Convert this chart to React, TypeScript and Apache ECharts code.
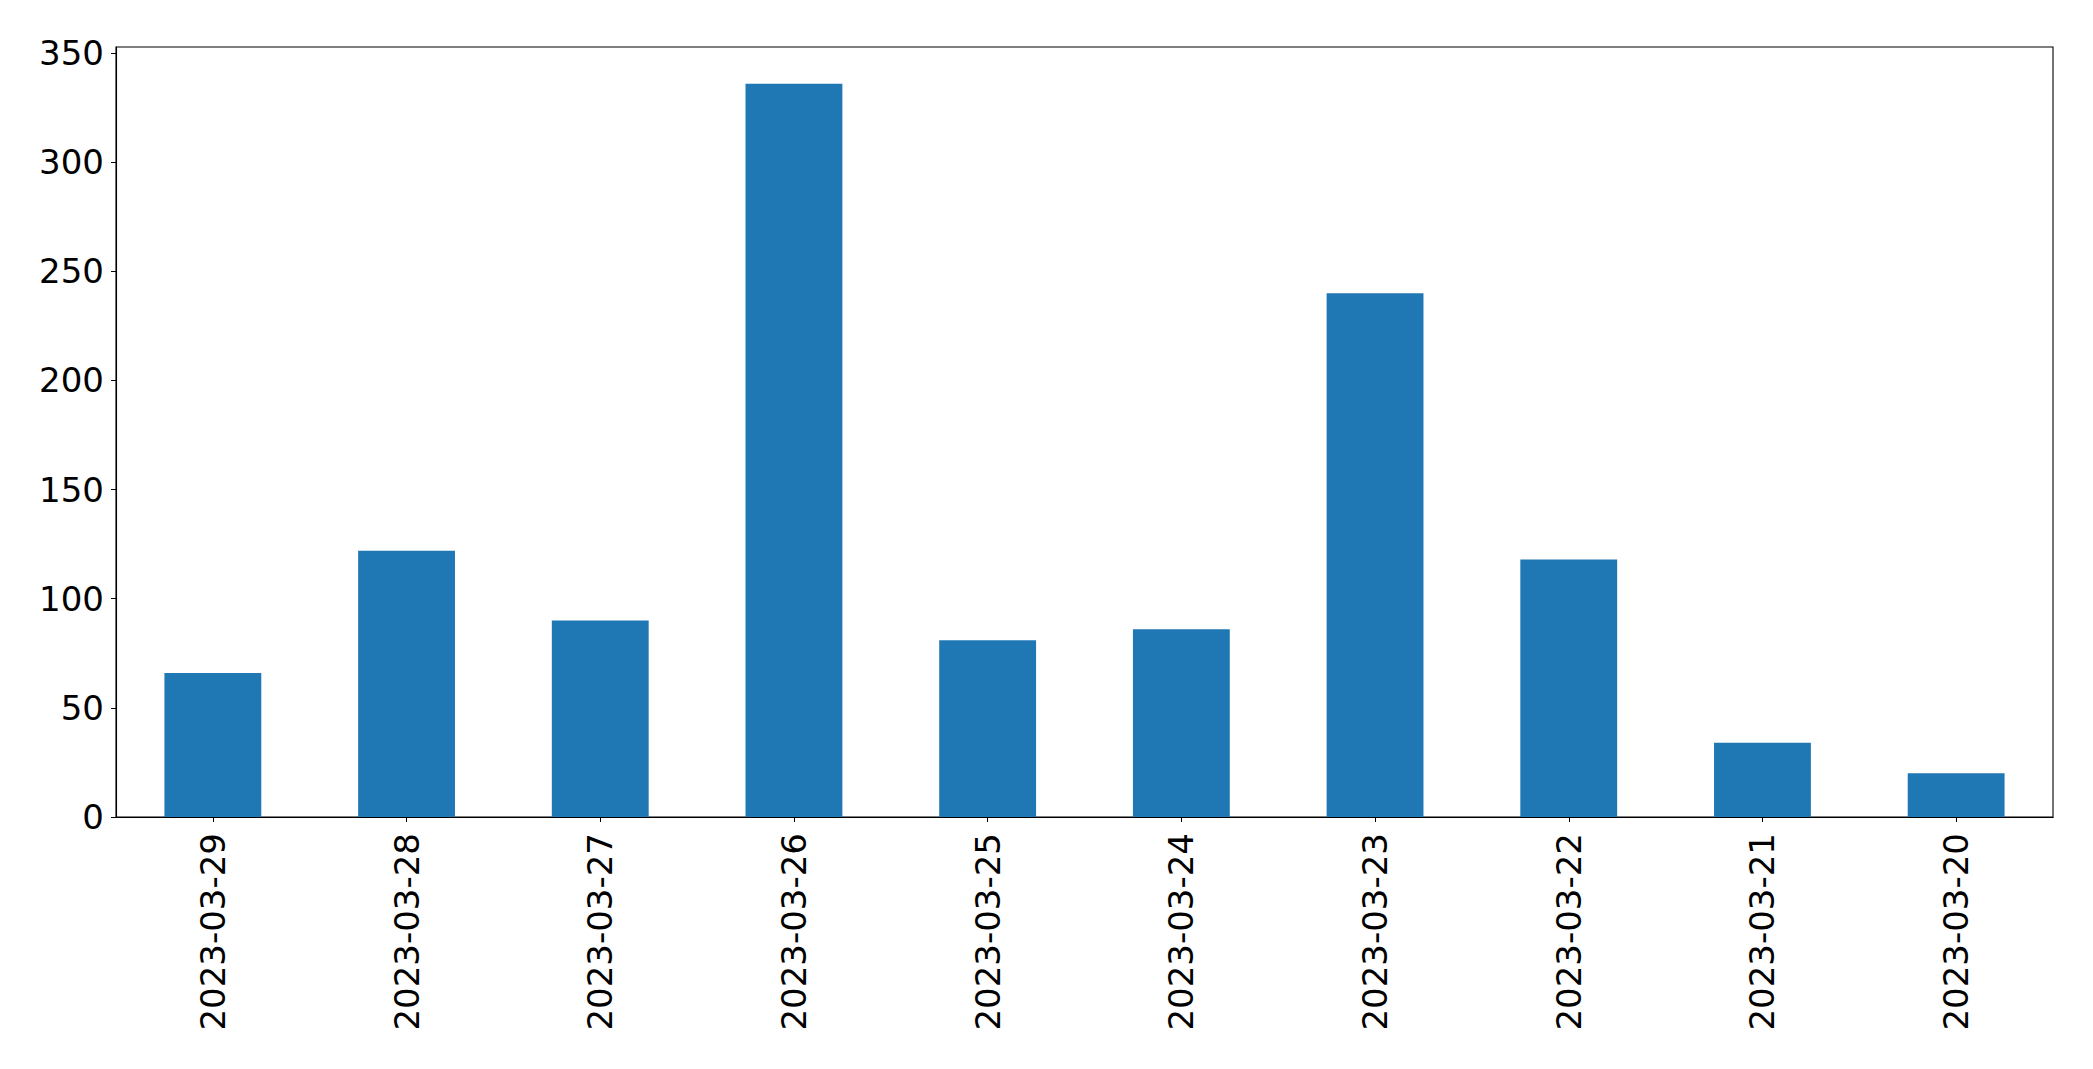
import React, { useEffect, useRef } from "react";
import * as echarts from "echarts";

const categories = [
  "2023-03-29", "2023-03-28", "2023-03-27", "2023-03-26", "2023-03-25",
  "2023-03-24", "2023-03-23", "2023-03-22", "2023-03-21", "2023-03-20",
];
const counts = [66, 122, 90, 336, 81, 86, 240, 118, 34, 20];
const yTicks = [0, 50, 100, 150, 200, 250, 300, 350];
const yMax = 352.8;

export default function App() {
  const ref = useRef<HTMLDivElement>(null);
  useEffect(() => {
    if (!ref.current) return;
    const chart = echarts.init(ref.current, null, { renderer: "svg" });
    const font = "DejaVu Sans";
    chart.setOption({
      animation: false,
      backgroundColor: "#ffffff",
      grid: {
        left: 116,
        right: 40,
        top: 47,
        bottom: 252,
        show: true,
        borderColor: "#000000",
        borderWidth: 1.1,
        backgroundColor: "transparent",
      },
      xAxis: {
        type: "category",
        data: categories,
        boundaryGap: true,
        axisLine: { show: true, lineStyle: { color: "#000000", width: 1.1 } },
        axisTick: { show: true, alignWithLabel: true, length: 5, lineStyle: { color: "#000000" } },
        axisLabel: {
          rotate: 90,
          interval: 0,
          margin: 16,
          color: "#000000",
          fontFamily: font,
          fontSize: 34,
        },
        splitLine: { show: false },
      },
      yAxis: {
        type: "value",
        min: 0,
        max: yMax,
        interval: 50,
        axisLine: { show: true, lineStyle: { color: "#000000", width: 1.1 } },
        axisTick: {
          show: true,
          length: 5,
          lineStyle: { color: "#000000" },
          customValues: yTicks,
        },
        axisLabel: {
          margin: 12,
          color: "#000000",
          fontFamily: font,
          fontSize: 34,
          customValues: yTicks,
        },
        splitLine: { show: false },
      },
      series: [
        {
          type: "bar",
          data: counts,
          barWidth: "50%",
          itemStyle: { color: "#1f77b4" },
        },
      ],
    });
    return () => chart.dispose();
  }, []);
  return (
    <div
      ref={ref}
      style={{ position: "fixed", left: 0, top: 0, width: 2093, height: 1069, background: "#fff" }}
    />
  );
}
